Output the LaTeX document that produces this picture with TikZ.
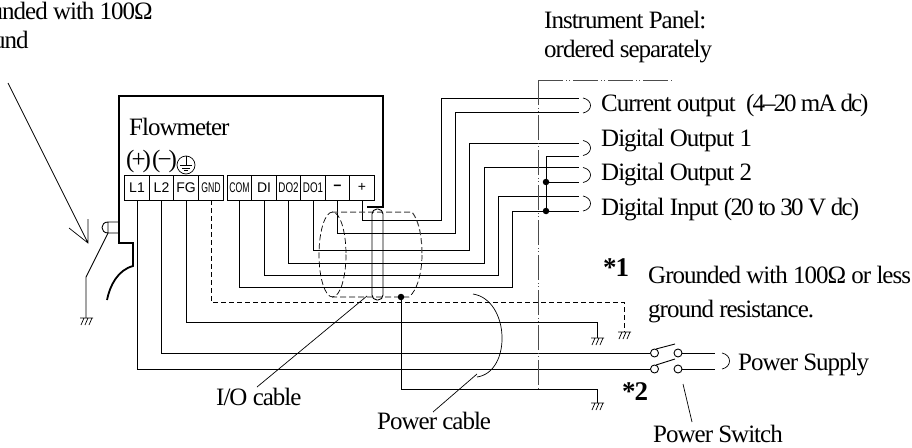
\documentclass[tikz,border=0pt]{standalone}
\usepackage{fontspec}
\setmainfont[LetterSpace=-4]{Liberation Serif}
\newfontfamily\termfont{Liberation Sans}
\newfontfamily\termcond[FakeStretch=0.62]{Liberation Sans}
\newfontfamily\termmid[FakeStretch=0.7]{Liberation Sans}
\tikzset{
  wire/.style={line width=0.9pt},
  dashwire/.style={line width=0.9pt,dash pattern=on 5pt off 3pt},
  thinline/.style={line width=0.7pt},
  shield/.style={line width=0.7pt,dash pattern=on 6pt off 3pt},
  panelline/.style={line width=1pt,black!70,dash pattern=on 25pt off 3pt on 1pt off 2pt on 1pt off 3pt},
  term/.style={draw,line width=0.9pt,minimum width=24.5pt,minimum height=25pt,inner sep=0pt,font=\termfont\fontsize{14}{14}\selectfont},
  lab/.style={anchor=base west,inner sep=0pt,font=\fontsize{25}{25}\selectfont},
  star/.style={anchor=base west,inner sep=0pt,font=\bfseries\fontsize{27}{27}\selectfont},
  contact/.style={circle,draw,line width=0.9pt,minimum size=8pt,inner sep=0pt},
  blob/.style={circle,fill=black,minimum size=6.5pt,inner sep=0pt},
  gnd/.pic={\draw[thinline] (-6,0) -- (7,0) (-2,0) -- (-5,7) (2,0) -- (-1,7) (6,0) -- (3,7);}
}
\begin{document}
\begin{tikzpicture}[x=1pt,y=-1pt]
\useasboundingbox (0,0) rectangle (912,447);
% flowmeter case
\draw[line width=1.8pt] (107,300) .. controls (110,285) and (118,270) .. (133,266)
-- (133,243) -- (119,243) -- (119,96) -- (383,96) -- (383,207) -- (367,207);
\draw[wire] (108,222) -- (119,222) (108,233) -- (119,233)
(108,222) -- (108,233)
(108,222) .. controls (100,222) and (100,233) .. (108,233);
\draw[wire] (108,233) -- (86,277) -- (86,318) pic{gnd};
\draw[thinline] (8,83) coordinate(arrowtail) -- (88,243) coordinate(arrowtip)
(69,228) -- (arrowtip) -- (88,219);
% terminals
\foreach \nm/\xx/\tx in {L1/137/L1,L2/161.5/L2,FG/186/FG,DI/264/DI}
  \node[term] (\nm) at (\xx,187.5) {\tx};
\node[term] (GND) at (211,187.5) {\termcond GND};
\node[term] (COM) at (239.5,187.5) {\termcond COM};
\node[term] (DOb) at (288.5,187.5) {\termmid DO2};
\node[term] (DOa) at (313,187.5) {\termmid DO1};
\node[term] (minus) at (337.5,187.5) {\textbf{−}};
\node[term] (plus) at (362,187.5) {+};
% right hand ends
\foreach \nm/\yy in {ca/98,cb/112,da/143,db/156,ea/167,eb/182,fa/196,fb/211}
  \coordinate (\nm) at (579,\yy);
\foreach \yy in {98,140.5,167.5,196}
  \draw[thinline] (583,\yy) .. controls (593,\yy+2) and (593,\yy+13) .. (583,\yy+15);
% signal wires
\draw[wire] (plus.south) |- (441,220) |- (ca);
\draw[wire] (minus.south) |- (455,233) |- (cb);
\draw[wire] (DOa.south) |- (469,250) |- (da);
\draw[wire] (DOb.south) |- (484,263) |- (ea);
\draw[wire] (DI.south) |- (498,275) |- (fa);
\draw[wire] (COM.south) |- (512,287) |- (fb);
\node[blob] (dotb) at (546,182) {};
\node[blob] (dotc) at (546,211) {};
\draw[wire] (dotb) -- (eb) (dotc) |- (db);
% shield and cables
\draw[shield] (332.5,254.5) ellipse (13.5 and 42.5);
\draw[shield,line width=1pt,black!75] (332,212) -- (412,212) .. controls (420,222) and (422,240) .. (422,255);
\draw[shield] (422,255) .. controls (422,270) and (418,290) .. (409,297) -- (332,297);
\node[draw,wire,rounded corners=5pt,minimum width=11pt,minimum height=91pt,inner sep=0pt] (iocap) at (377.5,254.5) {};
\node[blob] (dota) at (401,297) {};
\draw[wire] (dota) |- (597,389) -- (597,403) pic{gnd};
% power and ground wires
\node[contact] (swa) at (654.5,353) {};
\node[contact] (swb) at (654.5,369) {};
\node[contact] (swc) at (678,353) {};
\node[contact] (swd) at (678,369) {};
\draw[wire] (L2.south) |- (swa);
\draw[wire] (L1.south) |- (swb);
\draw[wire] (FG.south) |- (597,322) -- (597,338) pic{gnd};
\draw[dashwire] (GND.south) |- (624,302) -- (624,332);
\path (624,332) pic{gnd};
\draw[wire] (656,349) -- (675,344) (656,365) -- (675,359);
\draw[wire] (swc) -- (715,353) (swd) -- (715,369);
\draw[thinline] (722,353) .. controls (732,355) and (732,367) .. (722,369);
% instrument panel limit
\draw[panelline] (538,80) -- (673,80);
\draw[panelline] (538,80) -- (538,390);
% leaders
\node[lab] (iotext) at (216,405) {I/O cable};
\node[lab] (powertext) at (377,429) {Power cable};
\node[lab] (switchtext) at (653,442) {Power Switch};
\draw[thinline] (367,296) -- (257,387);
\draw[thinline] (473,294) .. controls (510,300) and (512,372) .. (477,377);
\draw[thinline] (477,374) -- (433,412);
\draw[thinline] (683,384) -- (692,422);
% labels
\node[lab,anchor=base east] (toptexta) at (153,19) {unded with 100Ω};
\node[lab] (toptextb) at (-7,48) {und};
\node[lab] (flowtext) at (129,135) {Flowmeter};
\node[lab] (plustext) at (126,167) {\addfontfeature{LetterSpace=-12}(+)};
\node[lab] (minustext) at (152,167) {\addfontfeature{LetterSpace=-12}(−)};
\node[circle,draw,thinline,minimum size=18pt,inner sep=0pt] (earth) at (186,165) {};
\draw[thinline] (earth.north) -- (186,165) (180,165) -- (192,165) (182,168) -- (190,168) (184,170.5) -- (188,170.5);
\node[lab] (paneltexta) at (544,28) {Instrument Panel:};
\node[lab] (paneltextb) at (544,57) {ordered separately};
\node[lab] (outa) at (601,111) {Current output\ \ {\addfontfeature{LetterSpace=-8}(4–20 mA dc)}};
\node[lab] (outb) at (601,146) {Digital Output 1};
\node[lab] (outc) at (601,180) {Digital Output 2};
\node[lab] (outd) at (601,215) {Digital Input {\addfontfeature{LetterSpace=-7}(20 to 30 V dc)}};
\node[star] (stara) at (603,276) {*1};
\node[lab] (notea) at (648,283) {Grounded with 100Ω or less};
\node[lab] (noteb) at (648,317) {ground resistance.};
\node[lab] (supply) at (738,370) {Power Supply};
\node[star] (starb) at (622,400) {*2};
\end{tikzpicture}
\end{document}
